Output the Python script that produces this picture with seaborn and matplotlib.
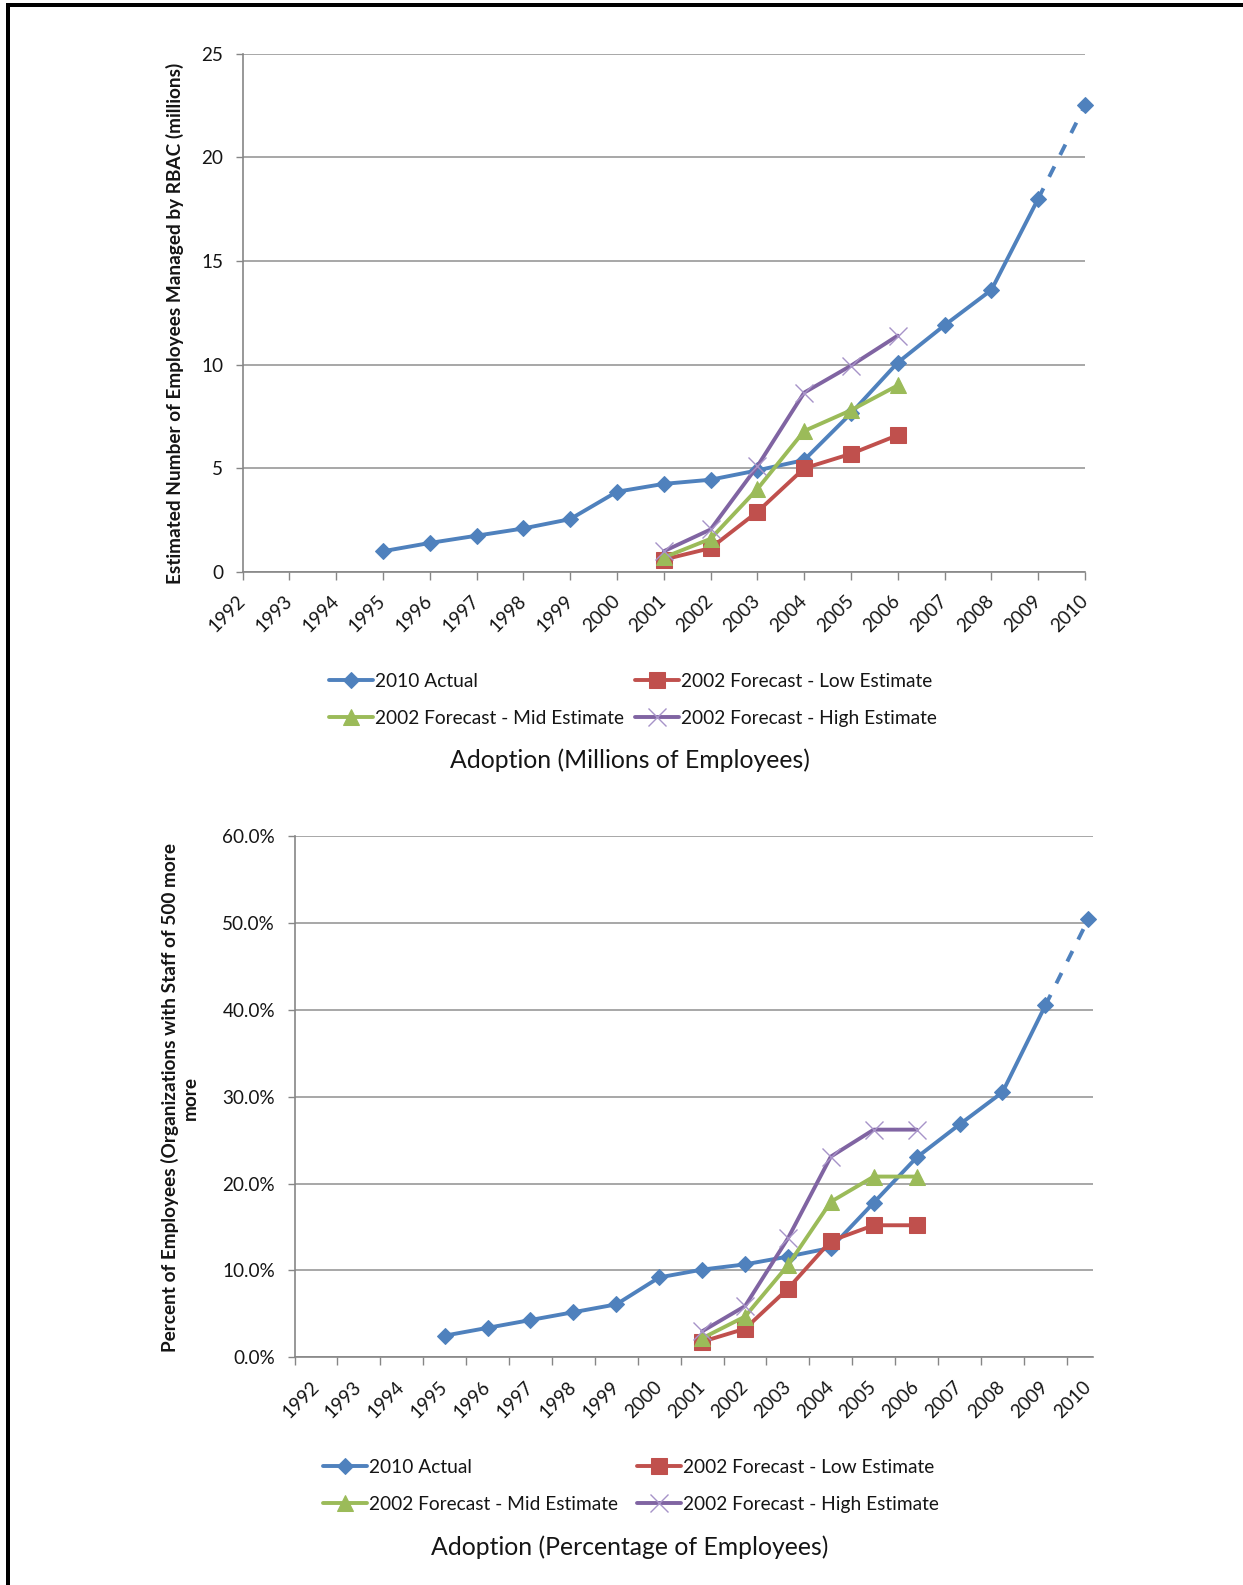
import matplotlib
matplotlib.use("Agg")
import matplotlib.pyplot as plt
from matplotlib.patches import Rectangle
from matplotlib.ticker import FuncFormatter, FixedLocator
import seaborn as sns

# ---- data -----------------------------------------------------------------
years = list(range(1992, 2011))
actual_years = list(range(1995, 2011))
forecast_years = list(range(2001, 2007))

# Adoption in millions of employees
actual_millions = [1.0, 1.4, 1.75, 2.1, 2.55, 3.87, 4.25, 4.45, 4.9, 5.4,
                   7.65, 10.1, 11.9, 13.6, 18.0, 22.5]
low_millions = [0.6, 1.15, 2.9, 5.0, 5.7, 6.6]
mid_millions = [0.7, 1.6, 4.0, 6.8, 7.8, 9.0]
high_millions = [1.0, 2.05, 5.1, 8.65, 9.95, 11.4]

# Adoption as percentage of employees
actual_pct = [2.5, 3.4, 4.3, 5.2, 6.1, 9.2, 10.1, 10.7, 11.6, 12.6,
              17.8, 23.0, 26.8, 30.5, 40.5, 50.4]
low_pct = [1.8, 3.3, 7.9, 13.4, 15.2, 15.2]
mid_pct = [2.2, 4.7, 10.6, 17.9, 20.8, 20.8]
high_pct = [3.0, 5.9, 13.7, 23.1, 26.2, 26.2]

series_labels = ["2010 Actual", "2002 Forecast - Low Estimate",
                 "2002 Forecast - Mid Estimate", "2002 Forecast - High Estimate"]

# ---- style ----------------------------------------------------------------
sns.set_theme(style="white")
plt.rcParams["font.family"] = ["Lato", "DejaVu Sans"]

BLUE, RED, GREEN, PURPLE = "#4F81BD", "#C0504D", "#9BBB59", "#8064A2"
X_EDGE = "#A793C8"
AXIS_GRAY = "#868686"
GRID_GRAY = "#8F8F8F"
TEXT = "#151515"
LW = 2.8
TICK_FS = 13.6
LEGEND_FS = 13.8
TITLE_FS = 17.8
YLABEL_FS = 13.7

W, H = 1243, 1585
fig = plt.figure(figsize=(W / 100, H / 100), dpi=100)
fig.patch.set_facecolor("white")


def fig_box(left, top, right, bottom):
    return [left / W, 1 - bottom / H, (right - left) / W, (bottom - top) / H]


def draw_series(ax, act, low, mid, high):
    sns.lineplot(x=actual_years[:-1], y=act[:-1], ax=ax, color=BLUE, lw=LW,
                 marker="D", markersize=8, markeredgecolor=BLUE, clip_on=False)
    h_act = ax.lines[-1]
    sns.lineplot(x=actual_years[-2:], y=act[-2:], ax=ax, color=BLUE, lw=LW,
                 linestyle=(0, (3, 3.3)), clip_on=False)
    sns.lineplot(x=actual_years[-1:], y=act[-1:], ax=ax, color=BLUE, lw=0,
                 marker="D", markersize=8, markeredgecolor=BLUE, clip_on=False)
    sns.lineplot(x=forecast_years, y=low, ax=ax, color=RED, lw=LW,
                 marker="s", markersize=11.5, markeredgecolor=RED, clip_on=False)
    h_low = ax.lines[-1]
    sns.lineplot(x=forecast_years, y=mid, ax=ax, color=GREEN, lw=LW,
                 marker="^", markersize=12, markeredgecolor=GREEN, clip_on=False)
    h_mid = ax.lines[-1]
    sns.lineplot(x=forecast_years, y=high, ax=ax, color=PURPLE, lw=LW,
                 marker="x", markersize=12.5, markeredgecolor=X_EDGE,
                 markeredgewidth=1.0, clip_on=False)
    h_high = ax.lines[-1]
    return h_act, h_low, h_mid, h_high


def style_axes(ax):
    for side in ("top", "right"):
        ax.spines[side].set_visible(False)
    for side in ("left", "bottom"):
        ax.spines[side].set_color(AXIS_GRAY)
        ax.spines[side].set_linewidth(1.2)
    ax.yaxis.grid(True, color=GRID_GRAY, lw=1.1)
    ax.xaxis.grid(False)
    ax.set_axisbelow(True)
    ax.set_xlabel("")
    ax.set_ylabel("")
    ax.tick_params(axis="y", which="both", direction="out", length=5, width=1,
                   color=AXIS_GRAY, pad=9, labelsize=TICK_FS, labelcolor=TEXT,
                   left=True)
    ax.tick_params(axis="x", which="both", direction="out", width=1,
                   color=AXIS_GRAY, labelsize=TICK_FS, labelcolor=TEXT,
                   bottom=True)


def add_legend(handles, col_x, row_top):
    act, low, mid, high = handles
    kw = dict(loc="upper left", frameon=False, fontsize=LEGEND_FS, ncol=1,
              handlelength=2.3, handletextpad=0.12, labelspacing=1.04,
              borderpad=0, borderaxespad=0, labelcolor=TEXT)
    fig.legend([act, mid], [series_labels[0], series_labels[2]],
               bbox_to_anchor=(col_x[0] / W, 1 - row_top / H), **kw)
    fig.legend([low, high], [series_labels[1], series_labels[3]],
               bbox_to_anchor=(col_x[1] / W, 1 - row_top / H), **kw)


# ---- top chart: millions of employees -------------------------------------
ax1 = fig.add_axes(fig_box(242.5, 53.6, 1085, 572))
h1 = draw_series(ax1, actual_millions, low_millions, mid_millions, high_millions)
style_axes(ax1)
ax1.set_xlim(1992, 2010)
ax1.set_ylim(0, 25)
ax1.set_yticks([0, 5, 10, 15, 20, 25])
ax1.set_xticks(years)
ax1.set_xticklabels([str(y) for y in years], rotation=45, ha="right",
                    va="center", rotation_mode="anchor")
ax1.tick_params(axis="x", length=6, pad=13)
fig.text(175 / W, 1 - 323 / H,
         "Estimated Number of Employees Managed by RBAC (millions)",
         rotation=90, ha="center", va="center", fontsize=YLABEL_FS,
         fontweight="bold", color=TEXT)
add_legend(h1, (328.5, 635), 673)
fig.text(630 / W, 1 - 760 / H, "Adoption (Millions of Employees)",
         ha="center", va="center", fontsize=TITLE_FS, color=TEXT)

# ---- bottom chart: percentage of employees --------------------------------
ax2 = fig.add_axes(fig_box(294.5, 835.8, 1092.6, 1357.4))
h2 = draw_series(ax2, actual_pct, low_pct, mid_pct, high_pct)
style_axes(ax2)
ax2.set_xlim(1991.5, 2010.1)
ax2.set_ylim(0, 60)
ax2.set_yticks([0, 10, 20, 30, 40, 50, 60])
ax2.yaxis.set_major_formatter(FuncFormatter(lambda v, _: f"{v:.1f}%"))
ax2.set_xticks(years)
ax2.set_xticklabels([str(y) for y in years], rotation=45, ha="right",
                    va="center", rotation_mode="anchor")
ax2.xaxis.set_minor_locator(FixedLocator([y - 0.5 for y in years]))
ax2.tick_params(axis="x", which="major", length=0, pad=19)
ax2.tick_params(axis="x", which="minor", length=6)
fig.text(179.5 / W, 1 - 1098 / H,
         "Percent of Employees (Organizations with Staff of 500 more\nmore",
         rotation=90, ha="center", va="center", multialignment="center",
         fontsize=YLABEL_FS, fontweight="bold", linespacing=1.2, color=TEXT)
add_legend(h2, (323, 637), 1459)
fig.text(630 / W, 1 - 1547 / H, "Adoption (Percentage of Employees)",
         ha="center", va="center", fontsize=TITLE_FS, color=TEXT)

# ---- page frame -----------------------------------------------------------
fig.patches.append(Rectangle((6 / W, 1 - 6.7 / H), (W - 6) / W, 3.4 / H,
                             transform=fig.transFigure, color="black", lw=0))
fig.patches.append(Rectangle((6 / W, 0), 4 / W, 1 - 3.3 / H,
                             transform=fig.transFigure, color="black", lw=0))

fig.savefig("out.png", dpi=100, facecolor="white")
